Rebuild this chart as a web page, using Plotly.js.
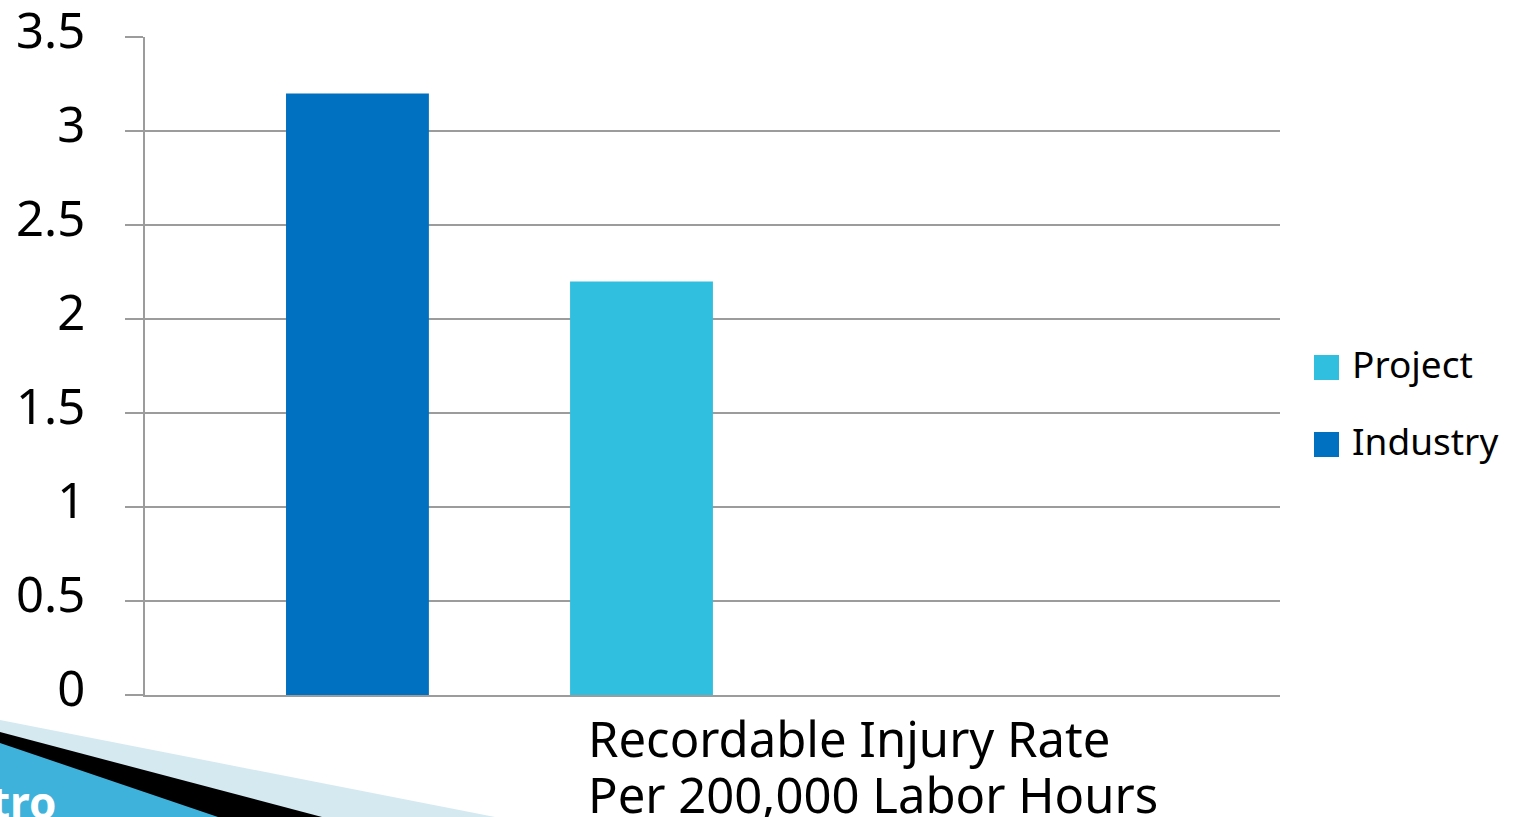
<!DOCTYPE html>
<html><head><meta charset="utf-8">
<script src="https://cdn.plot.ly/plotly-3.0.1.min.js"></script>
<style>html,body{margin:0;padding:0;background:#fff;overflow:hidden}#chart{width:1515px;height:817px}</style>
</head><body><div id="chart"></div>
<script>
const categories = ["Recordable Injury Rate Per 200,000 Labor Hours"];
const seriesNames = ["Industry", "Project"];
const industryValues = [3.2];
const projectValues = [2.2];
const yTickValues = [0, 0.5, 1, 1.5, 2, 2.5, 3, 3.5];
const yTickLabels = ["0", "0.5", "1", "1.5", "2", "2.5", "3", "3.5"];
const categoryLabelLines = ["Recordable Injury Rate", "Per 200,000 Labor Hours"];
const legendOrder = ["Project", "Industry"];
const seriesColors = { Industry: "#0070C0", Project: "#31BFDF" };

const W = 1515, H = 817;
const L = 145, R = 1280, T = 37, B = 695;
const X = px => (px - L) / (R - L);
const Y = py => (B - py) / (B - T);
const FONT = "Noto Sans, Open Sans, DejaVu Sans, sans-serif";

const valuesBySeries = { Industry: industryValues, Project: projectValues };
const traces = seriesNames.map(name => ({
  type: "bar",
  name: name,
  x: categories,
  y: valuesBySeries[name],
  marker: { color: seriesColors[name], line: { width: 0 } },
  hoverinfo: "skip",
  showlegend: false
}));

const shapes = [];
const annotations = [];

// manual legend
legendOrder.forEach((name, i) => {
  const top = 355 + i * 77;
  shapes.push({ type: "rect", xref: "paper", yref: "paper",
    x0: X(1314), x1: X(1339), y0: Y(top + 25), y1: Y(top),
    fillcolor: seriesColors[name], line: { width: 0 } });
  annotations.push({ xref: "paper", yref: "paper", x: X(1350), y: Y(top + 8),
    xanchor: "left", yanchor: "middle", showarrow: false, text: name,
    font: { family: FONT, size: 37, color: "#000" } });
});

// category label lines
categoryLabelLines.forEach((line, i) => {
  annotations.push({ xref: "paper", yref: "paper", x: X(586), y: Y(738 + i * 56),
    xanchor: "left", yanchor: "middle", showarrow: false, text: line,
    font: { family: FONT, size: 49, color: "#000" } });
});

// decorative logo corner
const path = pts => "M" + pts.map(p => X(p[0]) + "," + Y(p[1])).join(" L") + " Z";
shapes.push({ type: "path", xref: "paper", yref: "paper", path: path([[0,720],[495,817],[0,817]]), fillcolor: "#D5E9F1", line: { width: 0 } });
shapes.push({ type: "path", xref: "paper", yref: "paper", path: path([[0,732],[322,817],[0,817]]), fillcolor: "#000000", line: { width: 0 } });
shapes.push({ type: "path", xref: "paper", yref: "paper", path: path([[0,743],[218,817],[0,817]]), fillcolor: "#3FB2DB", line: { width: 0 } });
annotations.push({ xref: "paper", yref: "paper", x: X(58), y: Y(770), xanchor: "right", yanchor: "top",
  showarrow: false, text: "<b>tro</b>", font: { family: FONT, size: 44, color: "#ffffff" } });

const layout = {
  width: W, height: H,
  margin: { l: L, r: W - R, t: T, b: H - B, pad: 0 },
  paper_bgcolor: "#ffffff", plot_bgcolor: "#ffffff",
  barmode: "group", bargap: 0.5, bargroupgap: 0.497,
  showlegend: false,
  xaxis: { type: "category", range: [-0.312, 0.687], showticklabels: false, ticks: "",
    showgrid: false, zeroline: false, showline: true, linecolor: "#9C9C9C", linewidth: 2, fixedrange: true },
  yaxis: { range: [0, 3.5], tickmode: "array", tickvals: yTickValues, ticktext: yTickLabels,
    ticks: "outside", ticklen: 18, tickwidth: 2, tickcolor: "#9C9C9C",
    showgrid: true, gridcolor: "#9C9C9C", gridwidth: 2, zeroline: false,
    showline: true, linecolor: "#9C9C9C", linewidth: 2,
    ticklabelstandoff: 30, ticklabelshift: -6, ticklabeloverflow: "allow",
    tickfont: { family: FONT, size: 49, color: "#000" }, fixedrange: true },
  shapes: shapes,
  annotations: annotations
};

Plotly.newPlot("chart", traces, layout, { displayModeBar: false, staticPlot: true });
</script>
</body></html>
